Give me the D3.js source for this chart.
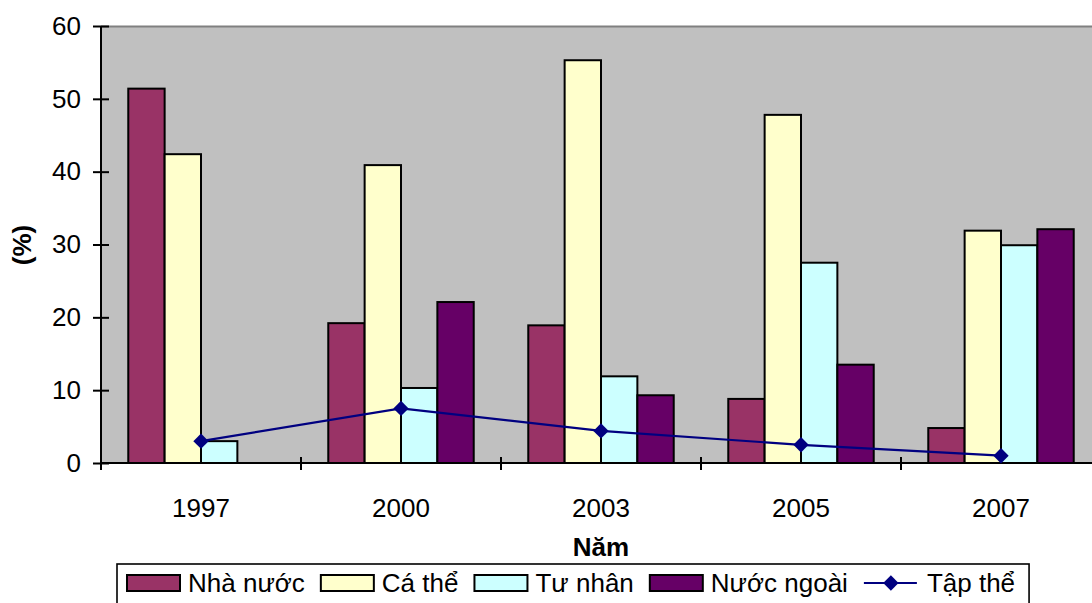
<!DOCTYPE html>
<html>
<head>
<meta charset="utf-8">
<script src="https://cdn.jsdelivr.net/npm/d3@7"></script>
<style>
  html, body { margin: 0; padding: 0; background: #ffffff; }
  svg { display: block; font-family: "Liberation Sans", Arial, sans-serif; }
</style>
</head>
<body>
<svg id="chart" width="1092" height="603"></svg>
<script>
// Cơ cấu theo thành phần kinh tế (%)
const years = ["1997", "2000", "2003", "2005", "2007"];
const barSeries = ["Nhà nước", "Cá thể", "Tư nhân", "Nước ngoài"];
const nhaNuoc   = [51.4, 19.2, 18.9, 8.8, 4.8];
const caThe     = [42.4, 40.9, 55.3, 47.8, 31.9];
const tuNhan    = [3.0, 10.3, 11.9, 27.5, 29.9];
const nuocNgoai = [0.0, 22.1, 9.3, 13.5, 32.1];
const tapThe    = [3.0, 7.5, 4.4, 2.5, 1.0];
const lineName  = "Tập thể";
const yTicks    = [0, 10, 20, 30, 40, 50, 60];
const barColors = ["#993366", "#FFFFCC", "#CCFFFF", "#660066"];
const lineColor = "#000080";

const barValues = [nhaNuoc, caThe, tuNhan, nuocNgoai];

const svg = d3.select("#chart");
const fontSize = 26;

const plot = { left: 101, right: 1101, top: 26, bottom: 463 };

const x0 = d3.scaleBand().domain(years).range([plot.left, plot.right]).padding(0);
const x1 = d3.scaleBand().domain(barSeries).range([0, x0.bandwidth()])
  .paddingInner(0).paddingOuter(0.75);
const y = d3.scaleLinear().domain([0, 60]).range([plot.bottom, plot.top]);

// plot background
svg.append("rect")
  .attr("x", plot.left).attr("y", plot.top)
  .attr("width", plot.right - plot.left).attr("height", plot.bottom - plot.top)
  .attr("fill", "#C0C0C0");
svg.append("line")
  .attr("x1", plot.left).attr("x2", plot.right)
  .attr("y1", plot.top + 0.5).attr("y2", plot.top + 0.5)
  .attr("stroke", "#808080").attr("stroke-width", 2);

// bars
const groups = svg.append("g").selectAll("g")
  .data(years).join("g")
  .attr("transform", d => `translate(${x0(d)},0)`);

groups.selectAll("rect")
  .data((yr, i) => barSeries.map((s, k) => ({ s, k, v: barValues[k][i] })))
  .join("rect")
  .attr("x", d => x1(d.s))
  .attr("width", x1.bandwidth())
  .attr("y", d => y(d.v))
  .attr("height", d => y(0) - y(d.v))
  .attr("fill", d => barColors[d.k])
  .attr("stroke", "#000")
  .attr("stroke-width", 2);

// axes
const yAxis = d3.axisLeft(y).tickValues(yTicks).tickSize(0).tickPadding(20);
const gy = svg.append("g").attr("transform", `translate(${plot.left},0)`).call(yAxis);
gy.select(".domain").remove();
gy.selectAll("text").attr("font-size", fontSize).attr("font-family", "Liberation Sans, Arial, sans-serif").attr("fill", "#000");
gy.selectAll(".tick").append("line")
  .attr("x1", -8).attr("x2", 8).attr("stroke", "#000").attr("stroke-width", 2);
svg.append("line")
  .attr("x1", plot.left).attr("x2", plot.left)
  .attr("y1", plot.top).attr("y2", plot.bottom + 7)
  .attr("stroke", "#000").attr("stroke-width", 2);

const xAxis = d3.axisBottom(x0).tickSize(0).tickPadding(36);
const gx = svg.append("g").attr("transform", `translate(0,${plot.bottom})`).call(xAxis);
gx.select(".domain").remove();
gx.selectAll("text").attr("font-size", fontSize).attr("font-family", "Liberation Sans, Arial, sans-serif").attr("fill", "#000");
svg.append("line")
  .attr("x1", plot.left).attr("x2", plot.right)
  .attr("y1", plot.bottom).attr("y2", plot.bottom)
  .attr("stroke", "#000").attr("stroke-width", 2);
svg.append("g").selectAll("line")
  .data(years).join("line")
  .attr("x1", d => x0(d)).attr("x2", d => x0(d))
  .attr("y1", plot.bottom - 6).attr("y2", plot.bottom + 7)
  .attr("stroke", "#000").attr("stroke-width", 2);

// line series
const cx = (d, i) => x0(years[i]) + x0.bandwidth() / 2;
const line = d3.line().x((d, i) => cx(d, i)).y(d => y(d));
svg.append("path")
  .datum(tapThe)
  .attr("d", line)
  .attr("fill", "none")
  .attr("stroke", lineColor)
  .attr("stroke-width", 2.2);
const diamond = d3.symbol().type(d3.symbolDiamond2).size(150);
svg.append("g").selectAll("path")
  .data(tapThe).join("path")
  .attr("d", diamond)
  .attr("transform", (d, i) => `translate(${cx(d, i)},${y(d)})`)
  .attr("fill", lineColor);

// axis titles
svg.append("text")
  .attr("x", 601).attr("y", 556)
  .attr("text-anchor", "middle")
  .attr("font-size", fontSize).attr("font-weight", "bold")
  .text("Năm");
svg.append("text")
  .attr("transform", "translate(31,245) rotate(-90)")
  .attr("text-anchor", "middle")
  .attr("font-size", fontSize).attr("font-weight", "bold")
  .text("(%)");

// legend
const legend = svg.append("g");
const legendBox = legend.append("rect")
  .attr("x", 117).attr("y", 564)
  .attr("height", 60)
  .attr("fill", "#fff").attr("stroke", "#000").attr("stroke-width", 1.6);

let lx = 127;
const rowY = 583;
barSeries.forEach((s, k) => {
  legend.append("rect")
    .attr("x", lx).attr("y", rowY - 8)
    .attr("width", 53).attr("height", 16)
    .attr("fill", barColors[k]).attr("stroke", "#000").attr("stroke-width", 2);
  const t = legend.append("text")
    .attr("x", lx + 61).attr("y", rowY + 9)
    .attr("font-size", fontSize)
    .text(s);
  lx += 61 + t.node().getComputedTextLength() + 16;
});
legend.append("line")
  .attr("x1", lx).attr("x2", lx + 53)
  .attr("y1", rowY).attr("y2", rowY)
  .attr("stroke", lineColor).attr("stroke-width", 2.2);
legend.append("path")
  .attr("d", diamond)
  .attr("transform", `translate(${lx + 27},${rowY})`)
  .attr("fill", lineColor);
const lt = legend.append("text")
  .attr("x", lx + 63).attr("y", rowY + 9)
  .attr("font-size", fontSize)
  .text(lineName);
lx += 63 + lt.node().getComputedTextLength() + 14;
legendBox.attr("width", lx - 117);
</script>
</body>
</html>
